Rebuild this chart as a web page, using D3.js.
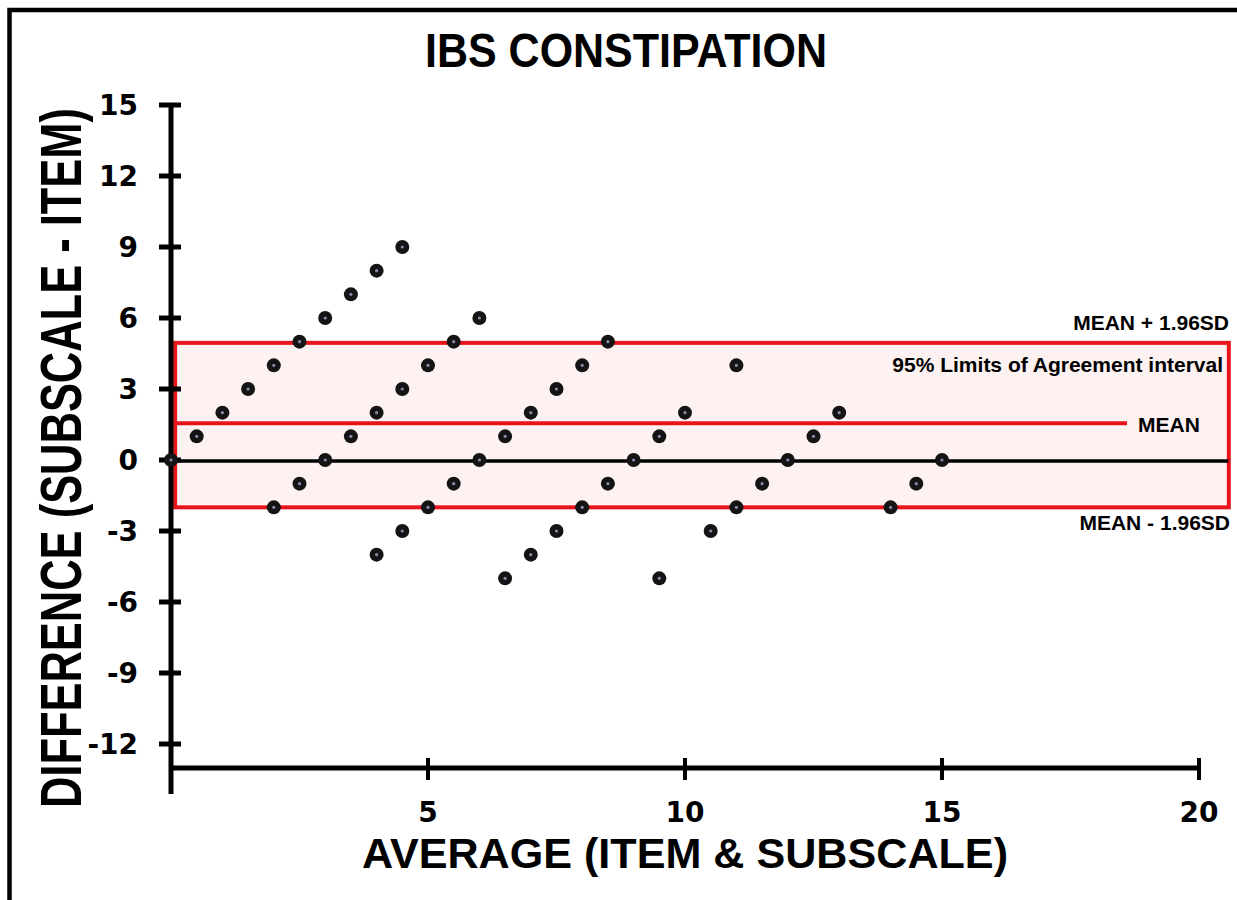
<!DOCTYPE html>
<html><head><meta charset="utf-8">
<script src="https://cdn.jsdelivr.net/npm/d3@7"></script>
<style>body{margin:0;background:#fff}svg{display:block}text{font-family:"Liberation Sans",Arial,sans-serif;font-weight:bold;fill:#000}.tk{font-family:"DejaVu Sans",sans-serif}</style>
</head><body>
<script>
const title = "IBS CONSTIPATION";
const xLabel = "AVERAGE (ITEM & SUBSCALE)";
const yLabel = "DIFFERENCE (SUBSCALE - ITEM)";
const xTicks = [5, 10, 15, 20];
const yTicks = [15, 12, 9, 6, 3, 0, -3, -6, -9, -12];
const avg = [0,0.5,1,1.5,2,2.5,3,3.5,4,4.5, 2,2.5,3,3.5,4,4.5,5,5.5,6, 4,4.5,5,5.5,6,6.5,7,7.5,8,8.5, 6.5,7,7.5,8,8.5,9,9.5,10, 9.5,10.5,11,11,11.5,12,12.5,13, 14,14.5,15];
const diff = [0,1,2,3,4,5,6,7,8,9, -2,-1,0,1,2,3,4,5,6, -4,-3,-2,-1,0,1,2,3,4,5, -5,-4,-3,-2,-1,0,1,2, -5,-3,-2,4,-1,0,1,2, -2,-1,0];
const meanDiff = 1.55, upperLoA = 4.95, lowerLoA = -2.0;
const annotations = ["MEAN + 1.96SD", "95% Limits of Agreement interval", "MEAN", "MEAN - 1.96SD"];

const W = 1237, H = 900;
const svg = d3.select("body").append("svg").attr("width", W).attr("height", H);
const x = d3.scaleLinear().domain([0, 20]).range([171, 1199]);
const y = d3.scaleLinear().domain([-12, 15]).range([744, 105]);

// frame
svg.append("rect").attr("x", 9.5).attr("y", 10).attr("width", 1300).attr("height", 1000)
  .attr("fill", "none").attr("stroke", "#000").attr("stroke-width", 4.5);

// LoA box
svg.append("rect").attr("x", x(0.08)).attr("y", y(upperLoA))
  .attr("width", x(20.58) - x(0.08)).attr("height", y(lowerLoA) - y(upperLoA))
  .attr("fill", "#fdf1f1").attr("stroke", "#e8141b").attr("stroke-width", 4);

// zero line
svg.append("line").attr("x1", x(0)).attr("x2", x(20.57)).attr("y1", y(0) + 1).attr("y2", y(0) + 1)
  .attr("stroke", "#000").attr("stroke-width", 3.5);
// mean line
svg.append("line").attr("x1", x(0.08)).attr("x2", x(18.6)).attr("y1", y(meanDiff)).attr("y2", y(meanDiff))
  .attr("stroke", "#e8141b").attr("stroke-width", 4);

// axes
const axisY = 768;
svg.append("line").attr("x1", x(0)).attr("x2", x(20)).attr("y1", axisY).attr("y2", axisY)
  .attr("stroke", "#000").attr("stroke-width", 5);
svg.append("line").attr("x1", x(0)).attr("x2", x(0)).attr("y1", y(15) - 2).attr("y2", 794)
  .attr("stroke", "#000").attr("stroke-width", 5);
svg.selectAll(".xt").data(xTicks).enter().append("line")
  .attr("x1", d => x(d)).attr("x2", d => x(d)).attr("y1", axisY - 10).attr("y2", axisY + 12)
  .attr("stroke", "#000").attr("stroke-width", 4);
svg.selectAll(".xtl").data(xTicks).enter().append("text").attr("class", "tk")
  .attr("x", d => x(d)).attr("y", 822).attr("text-anchor", "middle")
  .attr("font-size", 28).text(d => d);
svg.selectAll(".yt").data(yTicks).enter().append("line")
  .attr("x1", x(0) - 12).attr("x2", x(0) + 10).attr("y1", d => y(d)).attr("y2", d => y(d))
  .attr("stroke", "#000").attr("stroke-width", 5);
svg.selectAll(".ytl").data(yTicks).enter().append("text").attr("class", "tk")
  .attr("x", 138).attr("y", d => y(d) + 10).attr("text-anchor", "end")
  .attr("font-size", 28).text(d => d);

// points
const pts = avg.map((a, i) => ({a, d: diff[i]}));
svg.selectAll(".pt").data(pts).enter().append("circle")
  .attr("cx", p => x(p.a)).attr("cy", p => y(p.d)).attr("r", 7).attr("fill", "#141414");
svg.selectAll(".ptc").data(pts).enter().append("circle")
  .attr("cx", p => x(p.a)).attr("cy", p => y(p.d)).attr("r", 1.6).attr("fill", "#8a8aa6");

// titles
svg.append("text").attr("x", 626).attr("y", 67).attr("text-anchor", "middle")
  .attr("font-size", 48).attr("textLength", 402).attr("lengthAdjust", "spacingAndGlyphs").text(title);
svg.append("text").attr("x", 685).attr("y", 868).attr("text-anchor", "middle")
  .attr("font-size", 42).attr("textLength", 646).attr("lengthAdjust", "spacingAndGlyphs").text(xLabel);
svg.append("text").attr("transform", "translate(81,458) rotate(-90) scale(0.7625,1)").attr("text-anchor", "middle")
  .attr("font-size", 57).text(yLabel);

// annotations
svg.append("text").attr("x", 1229).attr("y", 330).attr("text-anchor", "end").attr("font-size", 21).text(annotations[0]);
svg.append("text").attr("x", 1223).attr("y", 372).attr("text-anchor", "end").attr("font-size", 21).text(annotations[1]);
svg.append("text").attr("x", 1138).attr("y", 432).attr("font-size", 21).text(annotations[2]);
svg.append("text").attr("x", 1230).attr("y", 530).attr("text-anchor", "end").attr("font-size", 21).text(annotations[3]);
</script>
</body></html>
